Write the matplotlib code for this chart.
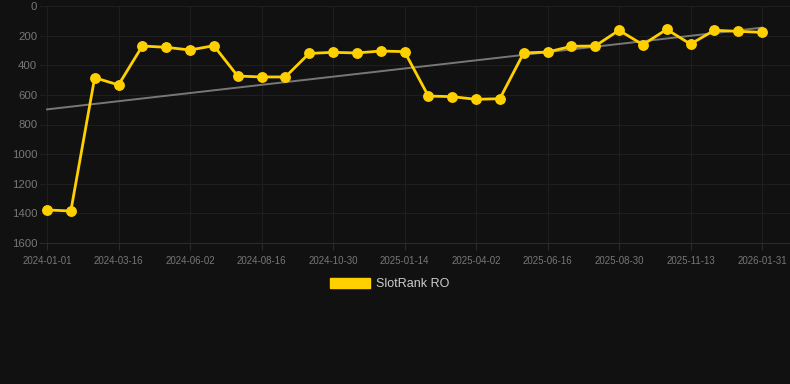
import matplotlib.pyplot as plt
import matplotlib.patches as mpatches
import numpy as np

plt.rcParams['font.family'] = ['Liberation Sans', 'DejaVu Sans']

# rank values, one point per sample (roughly every 25 days)
ranks = [1377, 1384, 484, 533, 270, 279, 297, 268, 473, 479, 479,
         320, 313, 317, 304, 308, 608, 612, 630, 626, 317, 311,
         272, 270, 164, 261, 158, 257, 164, 171, 178]
tick_labels = ['2024-01-01', '2024-03-16', '2024-06-02', '2024-08-16',
               '2024-10-30', '2025-01-14', '2025-04-02', '2025-06-16',
               '2025-08-30', '2025-11-13', '2026-01-31']
trend_ends = [698, 146]
y_ticks = [0, 200, 400, 600, 800, 1000, 1200, 1400, 1600]

bg = '#111111'
gold = '#FFD000'

fig = plt.figure(figsize=(7.9, 3.84), dpi=100, facecolor=bg)
ax = fig.add_axes([40/790, 141/384, 750/790, 237/384], facecolor=bg)

x = np.arange(len(ranks))
px = 715/30  # pixels per point
ax.set_xlim(-7/px, 30 + 28/px)
ax.set_ylim(1600, 0)

ax.plot([x[0], x[-1]], trend_ends, color='#777777', lw=1.4, zorder=2)
ax.plot(x, ranks, color=gold, lw=2.0, marker='o', ms=6.8, zorder=3,
        clip_on=False)

tick_pos = x[::3]
ax.set_xticks(tick_pos)
ax.set_xticklabels(tick_labels)
ax.set_yticks(y_ticks)
ax.grid(True, color='#1e1e1e', lw=0.8)
ax.set_axisbelow(True)
for s in ['top', 'right', 'left']:
    ax.spines[s].set_visible(False)
ax.spines['bottom'].set_color('#2a2a2a')
ax.tick_params(axis='x', colors='#2a2a2a', length=5, width=0.8,
               labelcolor='#777777', labelsize=7, pad=4)
ax.tick_params(axis='y', length=0, labelcolor='#777777', labelsize=8.2, pad=2)

handle = mpatches.Patch(color=gold, label='SlotRank RO')
leg = fig.legend(handles=[handle], loc='center', bbox_to_anchor=(390/790, 1 - 284/384),
                 frameon=False, handlelength=3.2, handleheight=0.9,
                 fontsize=9, labelcolor='#cccccc', handletextpad=0.5)

fig.savefig('out.png', dpi=100, facecolor=bg)
